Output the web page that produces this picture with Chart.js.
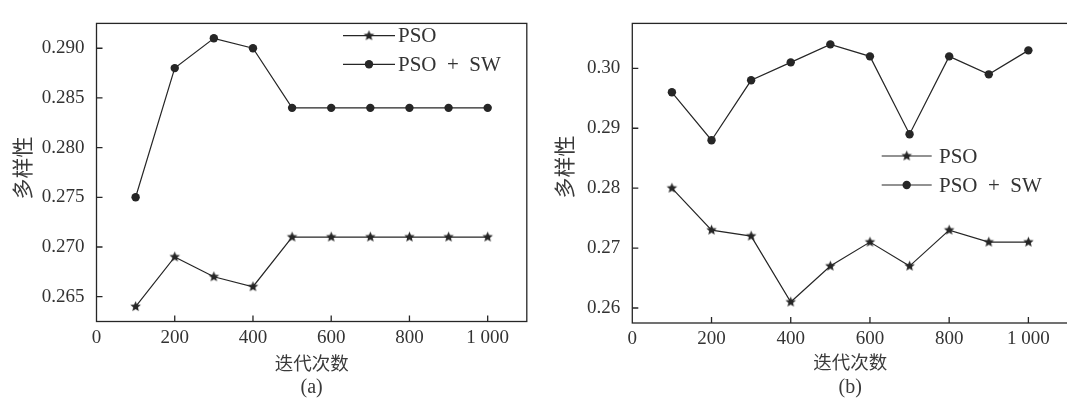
<!DOCTYPE html>
<html><head><meta charset="utf-8">
<script src="https://cdn.jsdelivr.net/npm/chart.js@4/dist/chart.umd.min.js"></script>
<style>
html,body{margin:0;padding:0;background:#fff;overflow:hidden;width:1067px;height:405px;}
#wrap{position:relative;width:1067px;height:405px;overflow:hidden;background:#fff;}
canvas{position:absolute;top:0;}
#ca{left:0}
#cb{left:536px}
</style></head><body>
<div id="wrap"><canvas id="ca" width="533" height="405"></canvas><canvas id="cb" width="540" height="405"></canvas></div>
<script>
// ---- data ----
const iterations = [100, 200, 300, 400, 500, 600, 700, 800, 900, 1000];
const xTicks = [0, 200, 400, 600, 800, 1000];
const xTickLabels = ['0', '200', '400', '600', '800', '1 000'];
const seriesLabels = ['PSO', 'PSO\u2002+\u2002SW'];

const psoA   = [0.264, 0.269, 0.267, 0.266, 0.271, 0.271, 0.271, 0.271, 0.271, 0.271];
const psoSwA = [0.275, 0.288, 0.291, 0.290, 0.284, 0.284, 0.284, 0.284, 0.284, 0.284];
const yTicksA = [0.265, 0.270, 0.275, 0.280, 0.285, 0.290];
const yTickLabelsA = ['0.265', '0.270', '0.275', '0.280', '0.285', '0.290'];

const psoB   = [0.280, 0.273, 0.272, 0.261, 0.267, 0.271, 0.267, 0.273, 0.271, 0.271];
const psoSwB = [0.296, 0.288, 0.298, 0.301, 0.304, 0.302, 0.289, 0.302, 0.299, 0.303];
const yTicksB = [0.26, 0.27, 0.28, 0.29, 0.30];
const yTickLabelsB = ['0.26', '0.27', '0.28', '0.29', '0.30'];

const xTitle = '迭代次数';
const yTitle = '多样性';
const panelLabels = ['(a)', '(b)'];

// ---- styles ----
const INK = '#262626';
const TXT = '#333333';
const SERIF = '"Liberation Serif", "Times New Roman", serif';
const CJK = '"Noto Sans CJK SC", sans-serif';

function makeStar(r) {
  const s = Math.ceil(r * 2 + 2);
  const c = document.createElement('canvas');
  c.width = s; c.height = s;
  const g = c.getContext('2d');
  g.fillStyle = INK;
  g.beginPath();
  for (let i = 0; i < 10; i++) {
    const rr = i % 2 ? r * 0.45 : r;
    const a = -Math.PI / 2 + i * Math.PI / 5;
    g.lineTo(s / 2 + rr * Math.cos(a), s / 2 + rr * Math.sin(a));
  }
  g.closePath();
  g.fill();
  return c;
}
const starImg = makeStar(5.5);

const framePlugin = {
  id: 'frame',
  afterDraw(chart, args, o) {
    const { ctx, chartArea: a, scales: { x, y } } = chart;
    ctx.save();
    ctx.strokeStyle = INK;
    ctx.lineWidth = 1.3;
    ctx.strokeRect(a.left, a.top, a.right - a.left, a.bottom - a.top);
    ctx.beginPath();
    x.ticks.forEach(t => {
      const px = x.getPixelForValue(t.value);
      if (px <= a.left + 1) return;
      ctx.moveTo(px, a.bottom); ctx.lineTo(px, a.bottom - 6);
    });
    y.ticks.forEach(t => {
      const py = y.getPixelForValue(t.value);
      ctx.moveTo(a.left, py); ctx.lineTo(a.left + 6, py);
    });
    ctx.stroke();

    // axis titles and panel label
    ctx.fillStyle = '#3a3a3a';
    ctx.textAlign = 'center';
    ctx.textBaseline = 'middle';
    ctx.font = '18.5px ' + CJK;
    const cx = (a.left + a.right) / 2;
    ctx.fillText(xTitle, cx, o.xTitleY);
    ctx.font = '20px ' + SERIF;
    ctx.fillText(o.panel, cx, o.panelY);
    ctx.save();
    ctx.translate(o.yTitleX, o.yTitleY);
    ctx.rotate(-Math.PI / 2);
    ctx.font = '21px ' + CJK;
    ctx.fillText(yTitle, 0, 0);
    ctx.restore();

    // legend
    const L = o.legend;
    chart.data.datasets.forEach((ds, i) => {
      const ly = L.y + i * L.gap;
      ctx.strokeStyle = INK;
      ctx.lineWidth = 1.2;
      ctx.beginPath();
      ctx.moveTo(L.x0, ly); ctx.lineTo(L.x1, ly);
      ctx.stroke();
      const mx = (L.x0 + L.x1) / 2;
      if (ds.pointStyle === 'circle') {
        ctx.fillStyle = INK;
        ctx.beginPath(); ctx.arc(mx, ly, 4.2, 0, Math.PI * 2); ctx.fill();
      } else {
        ctx.drawImage(ds.pointStyle, mx - ds.pointStyle.width / 2, ly - ds.pointStyle.height / 2);
      }
      ctx.fillStyle = TXT;
      ctx.textAlign = 'left';
      ctx.textBaseline = 'middle';
      ctx.font = '21px ' + SERIF;
      ctx.fillText(ds.label, L.tx, ly + 1);
    });
    ctx.restore();
  }
};

function makeChart(id, cfg) {
  const pts = arr => iterations.map((v, i) => ({ x: v, y: arr[i] }));
  return new Chart(document.getElementById(id), {
    type: 'line',
    data: {
      datasets: [
        { label: seriesLabels[0], data: pts(cfg.pso), borderColor: INK, borderWidth: 1.2,
          pointStyle: starImg, pointRadius: 5, backgroundColor: INK, fill: false, tension: 0 },
        { label: seriesLabels[1], data: pts(cfg.psoSw), borderColor: INK, borderWidth: 1.2,
          pointStyle: 'circle', pointRadius: 4.2, pointBackgroundColor: INK, pointBorderColor: INK,
          pointBorderWidth: 0, backgroundColor: INK, fill: false, tension: 0 }
      ]
    },
    options: {
      responsive: false, animation: false, events: [],
      layout: { padding: { top: cfg.top, right: cfg.right, left: 0, bottom: 0 } },
      plugins: {
        legend: { display: false }, tooltip: { enabled: false },
        frame: cfg.frame
      },
      scales: {
        x: {
          type: 'linear', min: 0, max: 1100,
          grid: { display: false, drawTicks: false }, border: { display: false },
          afterBuildTicks: s => { s.ticks = xTicks.map(v => ({ value: v })); },
          afterFit: s => { s.height = cfg.xh; },
          ticks: { padding: 5, maxRotation: 0, autoSkip: false,
                   font: { family: SERIF, size: 19 }, color: TXT,
                   callback: (v, i) => xTickLabels[i] }
        },
        y: {
          type: 'linear', min: cfg.ymin, max: cfg.ymax,
          grid: { display: false, drawTicks: false }, border: { display: false },
          afterBuildTicks: s => { s.ticks = cfg.yTicks.map(v => ({ value: v })); },
          afterFit: s => { s.width = cfg.yw; },
          ticks: { padding: 12, autoSkip: false,
                   font: { family: SERIF, size: 19 }, color: TXT,
                   callback: (v, i) => cfg.yLabels[i] }
        }
      }
    },
    plugins: [framePlugin]
  });
}

makeChart('ca', {
  pso: psoA, psoSw: psoSwA, yTicks: yTicksA, yLabels: yTickLabelsA,
  ymin: 0.2625, ymax: 0.2925, top: 7, right: 5.5, xh: 83.5, yw: 96.5,
  frame: { panel: panelLabels[0], xTitleY: 363, panelY: 388, yTitleX: 22, yTitleY: 168,
           legend: { x0: 343, x1: 395, y: 35.7, gap: 28.6, tx: 398 } }
});
makeChart('cb', {
  pso: psoB, psoSw: psoSwB, yTicks: yTicksB, yLabels: yTickLabelsB,
  ymin: 0.2575, ymax: 0.3075, top: 9.5, right: 8, xh: 82, yw: 96.3,
  frame: { panel: panelLabels[1], xTitleY: 362, panelY: 388, yTitleX: 28.5, yTitleY: 167,
           legend: { x0: 345.7, x1: 395.7, y: 156, gap: 29, tx: 403 } }
});
</script>
</body></html>
